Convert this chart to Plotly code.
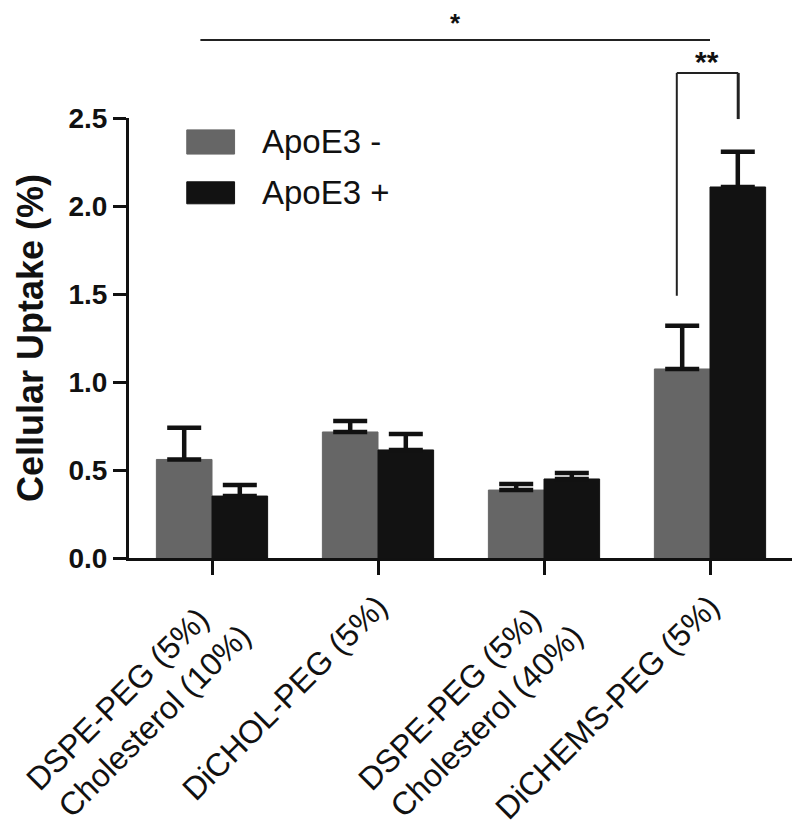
import plotly.graph_objects as go

NB = "\u00a0"
categories = ["DSPE-PEG (5%)" + NB * 2 + "<br>Cholesterol (10%)", "DiCHOL-PEG (5%)",
              "DSPE-PEG (5%)" + NB * 2 + "<br>Cholesterol (40%)", "DiCHEMS-PEG (5%)"]
apoe_minus = [0.56, 0.716, 0.386, 1.074]
apoe_minus_err = [0.18, 0.063, 0.034, 0.245]
apoe_plus = [0.352, 0.614, 0.449, 2.108]
apoe_plus_err = [0.063, 0.09, 0.034, 0.20]
series_names = ["ApoE3 -", "ApoE3 +"]
series_colors = ["#666666", "#121212"]

FONT = "Liberation Sans, Arial, sans-serif"
n = len(categories)
xs = list(range(n))

fig = go.Figure()
for name, vals, errs, col in [(series_names[0], apoe_minus, apoe_minus_err, series_colors[0]),
                              (series_names[1], apoe_plus, apoe_plus_err, series_colors[1])]:
    fig.add_trace(go.Bar(
        x=xs, y=vals, name=name,
        marker=dict(color=col, line=dict(color=col, width=1)),
        error_y=dict(type="data", symmetric=False, array=errs,
                     arrayminus=[0] * n, color="#111111", thickness=4.5, width=17),
        showlegend=False,
    ))

def px(xd):
    # data x -> paper x
    return (xd + 0.5) / n

def py(yd):
    return yd / 2.5

line_style = dict(color="#222222", width=2)
shapes = []
# overall comparison line
shapes.append(dict(type="line", xref="paper", yref="paper",
                   x0=px(-0.07), x1=px(3.0), y0=py(2.943), y1=py(2.943), line=line_style))
# bracket for group 4
shapes.append(dict(type="line", xref="paper", yref="paper",
                   x0=px(2.8), x1=px(2.8), y0=py(1.49), y1=py(2.756), line=line_style))
shapes.append(dict(type="line", xref="paper", yref="paper",
                   x0=px(2.8), x1=px(3.17), y0=py(2.756), y1=py(2.756), line=line_style))
shapes.append(dict(type="line", xref="paper", yref="paper",
                   x0=px(3.17), x1=px(3.17), y0=py(2.756), y1=py(2.494),
                   line=dict(color="#222222", width=3)))

# manual legend
leg_x0, leg_x1 = 0.087, 0.159
leg_rows = [(0.973, 0.918), (0.855, 0.805)]
annotations = []
for (y1, y0), name, col in zip(leg_rows, series_names, series_colors):
    shapes.append(dict(type="rect", xref="paper", yref="paper",
                       x0=leg_x0, x1=leg_x1, y0=y0, y1=y1,
                       fillcolor=col, line=dict(color=col, width=1)))
    annotations.append(dict(xref="paper", yref="paper", x=0.197, y=(y0 + y1) / 2,
                            text=name, showarrow=False, xanchor="left", yanchor="middle",
                            font=dict(family=FONT, size=33, color="#111111")))

annotations.append(dict(xref="paper", yref="paper", x=px(1.465), y=py(3.04),
                        text="*", showarrow=False, xanchor="center", yanchor="middle",
                        font=dict(family=FONT, size=26, color="#111111", weight="bold")))
annotations.append(dict(xref="paper", yref="paper", x=px(2.98), y=py(2.82),
                        text="**", showarrow=False, xanchor="center", yanchor="middle",
                        font=dict(family=FONT, size=30, color="#111111", weight="bold")))

fig.update_layout(
    width=800, height=831,
    margin=dict(l=118, r=15, t=110, b=281),
    paper_bgcolor="white", plot_bgcolor="white",
    barmode="group", bargap=0.33, bargroupgap=0,
    shapes=shapes, annotations=annotations,
    font=dict(family=FONT, color="#111111"),
)
fig.update_xaxes(
    range=[-0.5, n - 0.5], tickmode="array", tickvals=xs, ticktext=categories,
    tickangle=-45, tickfont=dict(family=FONT, size=32, color="#111111"),
    showline=True, linecolor="#111111", linewidth=3, ticks="outside",
    ticklen=14, tickwidth=3, tickcolor="#111111", showgrid=False, zeroline=False,
)
fig.update_yaxes(
    range=[0, 2.5], tickvals=[0, 0.5, 1.0, 1.5, 2.0, 2.5],
    ticktext=["0.0", "0.5", "1.0", "1.5", "2.0", "2.5"],
    tickfont=dict(family=FONT, size=28, color="#111111", weight="bold"),
    showline=True, linecolor="#111111", linewidth=3, ticks="outside",
    ticklen=13, tickwidth=3, tickcolor="#111111", showgrid=False, zeroline=False,
    title=dict(text="Cellular Uptake (%)", standoff=14,
               font=dict(family=FONT, size=36, color="#111111", weight="bold")),
)

fig.write_html("out.html")
